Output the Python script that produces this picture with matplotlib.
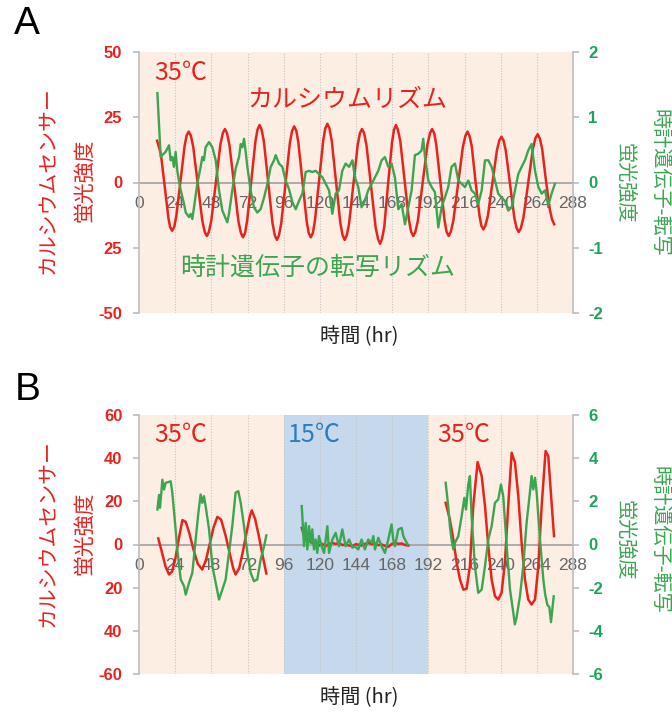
import matplotlib.pyplot as plt

# ---- data ----
hours = [0, 24, 48, 72, 96, 120, 144, 168, 192, 216, 240, 264, 288]
grid_hours = [24, 48, 72, 96, 120, 144, 168, 192, 216, 240, 264]

# panel A (35C constant)
a_left_ticks = [-50, -25, 0, 25, 50]
a_left_labels = ['-50', '25', '0', '25', '50']
a_right_ticks = [-2, -1, 0, 1, 2]
a_right_labels = ['-2', '-1', '0', '1', '2']

a_red_t = [12, 14.5, 17, 19.5, 20.6, 22, 23.4, 24.75, 27.5, 30.25, 31.6, 33, 34.4, 36, 39, 42,
           43.6, 45, 46.4, 48, 51, 54, 55.6, 57, 58.4, 60, 63, 66, 67.6, 69, 70.4, 71.75,
           74.5, 77.25, 78.6, 80, 81.4, 82.9, 85.75, 88.6, 90.1, 91.5, 92.9, 94.4, 97.25,
           100.1, 101.6, 103, 104.4, 105.75, 108.5, 111.25, 112.6, 114, 115.4, 116.75,
           119.5, 122.25, 123.6, 125, 126.4, 127.9, 130.75, 133.6, 135.1, 136.5, 137.9,
           139.4, 142.25, 145.1, 146.6, 148, 149.4, 151, 154, 157, 158.6, 160, 161.3,
           162.8, 165.25, 167.9, 169.2, 170.5, 171.8, 173.4, 176.25, 179.1, 180.6, 182,
           183.4, 185.1, 188.25, 191.4, 193.1, 194.5, 195.9, 197.25, 200, 202.75, 204.1,
           205.5, 206.9, 208.6, 211.75, 214.9, 216.6, 218, 219.3, 220.8, 223.25, 225.9,
           227.2, 228.5, 229.8, 231.5, 234.5, 237.5, 239.1, 240.5, 241.9, 243.4, 246.25,
           249.1, 250.6, 252, 253.4, 255.1, 258.25, 261.4, 263.1, 264.5, 265.9, 267.5, 270,
           272.5, 274, 275.5]
a_red_v = [16, 11, -1.25, -13.5, -17, -18.5, -17, -12.9, 0.5, 13.9, 18, 19.5, 18, 13.6, -0.5,
           -14.6, -18.9, -20.5, -18.9, -14.5, 0, 14.5, 18.9, 20.5, 18.9, 14.4, -0.25, -14.9,
           -19.3, -21, -19.3, -14.7, 0.5, 15.7, 20.2, 22, 20.2, 15.6, 0, -15.6, -20.2, -22,
           -20.2, -15.6, -0.25, 15.1, 19.8, 21.5, 19.8, 15.3, 0.25, -14.8, -19.3, -21,
           -19.3, -14.6, 0.75, 16.1, 20.7, 22.5, 20.7, 16, 0.25, -15.5, -20.2, -22, -20.2,
           -15.8, -0.75, 14.3, 18.9, 20.5, 18.9, 14.1, -1.5, -17.1, -21.6, -23.5, -21.6,
           -16.8, -0.75, 15.3, 20.2, 22, 20.2, 15.8, 0.75, -14.3, -18.9, -20.5, -18.9,
           -14.5, 0, 14.5, 18.9, 20.5, 18.9, 14.5, 0, -14.5, -18.9, -20.5, -18.9, -14.6,
           -0.5, 13.6, 17.9, 19.5, 17.9, 14, 0.75, -12.5, -16.6, -18, -16.6, -12.8, -0.25,
           12.3, 16.1, 17.5, 16.1, 12.2, -0.75, -13.7, -17.5, -19, -17.5, -13.5, -0.25, 13,
           17, 18.5, 17, 13, 1, -10, -14, -16]

a_green_t = [12.2, 14.4, 15.5, 17.7, 19.9, 21, 22.1, 23.2, 24.3, 25.4, 26.5, 27.7, 29.9, 31,
             33.2, 34.3, 35.4, 36.5, 38.7, 40.9, 42, 43.1, 44.2, 46.5, 48.7, 50.9, 53.1,
             55.3, 57.1, 58.6, 59.7, 61.9, 64.1, 66.4, 67.5, 68.6, 69.7, 70.8, 71.9, 74.1,
             76.3, 78.5, 80.7, 83, 85.2, 87.4, 89.6, 90.7, 92.9, 95.1, 97.3, 99.5, 101.8,
             104, 106.2, 108.4, 110.6, 112.8, 115, 117.2, 119.4, 121.7, 123.9, 126.1, 128.3,
             130.5, 132.7, 134.9, 137.1, 139.4, 141.6, 143.3, 145.5, 147.7, 149.9, 152.1,
             154.4, 156.6, 158.8, 161, 163.2, 165.4, 167.6, 169.8, 172.1, 174.3, 176.5,
             178.7, 180.9, 183.1, 185.3, 187.5, 188.6, 189.8, 192, 194.2, 196.4, 198.6,
             200.8, 203, 205.2, 207.4, 209.7, 211.9, 214.1, 216.3, 218.5, 220.7, 222.9,
             225.1, 227.4, 229.6, 231.8, 234, 236.2, 238.4, 240.6, 242.8, 245, 247.3, 249.5,
             251.7, 253.9, 256.1, 258.3, 260.5, 262.8, 265, 267.2, 269.4, 271.6, 273.8, 276]
a_green_v = [1.37, 0.39, 0.42, 0.47, 0.57, 0.34, 0.39, 0.24, 0.47, 0.18, 0.03, -0.12, -0.33,
             -0.46, -0.53, -0.48, -0.56, -0.38, -0.02, 0.24, 0.39, 0.34, 0.54, 0.62, 0.54,
             0.34, -0.12, -0.43, -0.53, -0.61, -0.48, -0.12, 0.21, 0.39, 0.59, 0.54, 0.67,
             0.47, 0.24, -0.12, -0.38, -0.46, -0.41, -0.23, -0.02, 0.24, 0.34, 0.42, 0.29,
             0.24, 0.03, -0.1, -0.3, -0.41, -0.28, -0.17, 0.16, 0.18, 0.16, 0.18, 0.13, 0.08,
             -0.02, -0.12, -0.48, -0.17, -0.12, 0.18, 0.29, 0.24, 0.34, 0.08, -0.07, -0.38,
             -0.28, -0.12, -0.02, 0.08, 0.18, 0.34, 0.39, 0.24, 0.29, 0.08, -0.41, -0.33,
             -0.64, -0.38, -0.12, 0.42, 0.44, 0.49, 0.67, 0.39, 0.03, -0.07, -0.15, -0.69,
             -0.38, -0.23, -0.07, 0.24, 0.29, 0.03, -0.02, -0.07, 0.03, -0.12, -0.17, -0.33,
             -0.12, 0.34, 0.34, 0.24, 0.03, -0.17, -0.23, -0.28, -0.43, -0.38, -0.12, 0.13,
             0.24, 0.34, 0.49, 0.59, 0.18, -0.07, -0.17, -0.12, -0.35, -0.17, -0.02]

# panel B (35C -> 15C -> 35C)
b_left_ticks = [-60, -40, -20, 0, 20, 40, 60]
b_left_labels = ['-60', '40', '20', '0', '20', '40', '60']
b_right_ticks = [-6, -4, -2, 0, 2, 4, 6]
b_right_labels = ['-6', '-4', '-2', '0', '2', '4', '6']
cold_start, cold_end = 96, 192

b_red1_t = [12.8, 15, 17.5, 19.9, 22, 24, 26.5, 28.8, 31, 33.5, 36, 39, 42, 44.5, 47, 49.5,
            52, 54.5, 57.5, 60.5, 62.5, 64.1, 66.5, 69, 71.5, 73.5, 74.8, 77, 79.5, 82, 84.5]
b_red1_v = [2.8, -3, -10, -13.9, -12.5, -7, 3, 11.3, 10.5, 5, -2, -9, -11.6, -7, 0.5, 8,
            12.8, 11.5, 4, -5, -11, -13.9, -11, -3, 6, 13, 15.8, 12, 4, -5, -13.4]
b_red2_t = [108, 109.5, 110.6, 113, 115, 117, 119.4, 121.5, 123.9, 126, 128.3, 130.5, 132.7,
            135, 137.1, 139.4, 141.6, 144, 147.7, 150, 152.1, 154.4, 156.6, 158.8, 161,
            163.2, 165.4, 167.6, 169.8, 172.1, 174.3, 176.5, 178.7]
b_red2_v = [7.7, 4, 2.3, 1.5, 0.8, -0.2, -0.5, 0.3, -0.8, 0.2, 0.8, 0.2, 0.8, -0.3, 0, -0.5,
            -0.8, 0.2, -0.5, 0.3, 0.8, 0.2, 0.5, -0.3, 0, -0.6, -1.1, 0.2, 0.8, 0.3, 0.5,
            -0.2, -0.5]
b_red3_t = [203.5, 206.3, 208.6, 210.8, 213, 215.2, 217.4, 219.6, 221.8, 224.7, 227.4, 229.6,
            231.8, 234, 236.2, 238.4, 240.6, 242.8, 245, 247.3, 249.5, 251.7, 253.9, 256.1,
            258.3, 260.5, 262.8, 265, 267.2, 269.8, 271.6, 273.8, 275.4]
b_red3_v = [19.3, 11.6, 2.3, -8.5, -16.2, -20.9, -20.5, -10, 17.8, 38.2, 31.7, 17.8, -0.8,
            -16.2, -23.9, -25.5, -22.4, -8.5, 17.8, 42.5, 37.9, 22.4, 0.8, -16.2, -25.5,
            -27.8, -25.5, -10, 17.8, 43.3, 40.9, 19.3, 3.9]

b_green1_t = [12.2, 13.3, 13.9, 14.8, 15.5, 16.6, 17.7, 19.9, 21, 22.1, 24.3, 25.4, 27.7,
              29.9, 31, 33.2, 35.4, 37.6, 39.4, 40.9, 42, 43.1, 44.2, 46.5, 48.7, 50.9,
              53.1, 55.3, 57.5, 59.7, 61.9, 64.1, 65.9, 67.5, 69.7, 71.9, 74.1, 76.3, 78.5,
              80.7, 83, 84.5]
b_green1_v = [1.62, 2.3, 1.7, 2.4, 3.0, 2.55, 2.86, 2.9, 2.93, 2.4, 0.7, -0.23, -1.62, -1.93,
              -2.32, -1.78, -1.31, 0.23, 1.47, 2.32, 1.93, 2.24, 1.78, 0.7, -1.0, -1.78,
              -2.55, -2.09, -1.62, -0.39, 0.85, 2.4, 2.47, 1.93, 0.85, -0.39, -1.31, -1.7,
              -1.62, -0.7, -0.08, 0.42]
b_green2_t = [108, 109.5, 110.6, 111.7, 112.8, 113.9, 115, 116.1, 117.2, 118.3, 119.4, 121.2,
              122.8, 125, 126.1, 128.3, 130.5, 132.7, 134.9, 137.1, 139.4, 141.6, 143.3,
              145.5, 147.7, 149.9, 152.1, 154.4, 155.5, 156.6, 158.8, 161, 163.2, 165.4,
              167.6, 168.7, 169.8, 172.1, 174.3, 175.4, 176.5, 178.3]
b_green2_v = [1.78, -0.08, 1.0, -0.23, 0.85, 0.08, 0.7, -0.23, 0.23, -0.39, 0.39, -0.08,
              -0.39, 0.85, -0.39, 0.23, 0.54, -0.08, 0.7, -0.08, 0.23, -0.15, -0.08, -0.23,
              0.23, -0.23, 0.23, 0.08, 0.39, -0.23, 0.31, -0.08, -0.39, 0.23, 0.93, 0.23,
              -0.08, 0.7, 0.77, 0.39, 0.23, 0]
b_green3_t = [203.5, 205.2, 206.3, 207.4, 208.6, 209.7, 211.9, 214.1, 215.9, 217, 218.5,
              219.6, 220.7, 222.9, 225.1, 227.4, 229.6, 231.8, 234, 236.2, 238.4, 240.2,
              241.7, 244, 246.2, 248.4, 249.4, 250.5, 252.8, 255, 257.2, 259.4, 260.5,
              261.6, 262.8, 263.9, 266.1, 268.3, 269.5, 271, 272.3, 273.4, 275.2]
b_green3_v = [2.86, 1.78, 0.85, 0.23, -0.23, 0.08, 0.39, 1.31, 2.16, 1.62, 2.78, 3.17, 1.31,
              -1.0, -2.24, -2.09, -1.0, 0.23, 0.85, 1.93, 2.09, 2.78, 2.24, -0.08, -2.09,
              -3.17, -3.7, -3.4, -2.4, -1.0, 1.0, 2.4, 3.17, 2.55, 3.09, 2.4, 0.23, -1.62,
              -2.3, -2.8, -2.9, -3.6, -2.4]

# ---- style ----
RED = '#e8231e'
GREEN = '#3aa650'
GREEN_TXT = '#1fa35a'
BLUE_TXT = '#2a7dbf'
PEACH = '#fdeee4'
COLD = '#c6d8ec'
CJK = ['Noto Sans CJK JP', 'DejaVu Sans']
NUM = ['Liberation Sans', 'DejaVu Sans']

W, H = 672, 713
fig = plt.figure(figsize=(W / 100, H / 100), dpi=100)


def fx(px):
    return px / W


def fy(py):
    return 1 - py / H


def setup_panel(top, bottom, ylim, lticks, llabels, rlim, rticks, rlabels):
    ax = fig.add_axes([fx(139), fy(bottom), fx(573) - fx(139), fy(top) - fy(bottom)])
    ax.set_facecolor(PEACH)
    ax.set_xlim(0, 288)
    ax.set_ylim(*ylim)
    for t in grid_hours:
        ax.axvline(t, color='#c4c4c4', ls=(0, (1, 1.5)), lw=0.8, zorder=1)
    for s in ('top', 'right'):
        ax.spines[s].set_visible(False)
    ax.spines['left'].set_color('#bdbdbd')
    ax.spines['left'].set_linewidth(1.2)
    ax.spines['bottom'].set_position(('data', 0))
    ax.spines['bottom'].set_color('#a0a0a0')
    ax.spines['bottom'].set_linewidth(1.2)
    ax.spines['bottom'].set_zorder(1.5)
    ax.set_xticks(hours)
    ax.set_xticklabels([str(h) for h in hours], fontsize=12.5, color='#666666', family=NUM)
    ax.tick_params(axis='x', length=0, pad=10)
    ax.set_yticks(lticks)
    ax.set_yticklabels(llabels, fontsize=12, color=RED, fontweight='bold', family=NUM)
    ax.tick_params(axis='y', length=4, width=1.2, color='#bdbdbd', pad=8)

    ax2 = ax.twinx()
    ax2.set_ylim(*rlim)
    for s in ('top', 'left', 'bottom'):
        ax2.spines[s].set_visible(False)
    ax2.spines['right'].set_color('#bdbdbd')
    ax2.spines['right'].set_linewidth(1.2)
    ax2.set_yticks(rticks)
    ax2.set_yticklabels(rlabels, fontsize=12, color=GREEN_TXT, fontweight='bold', family=NUM)
    ax2.tick_params(axis='y', length=4, width=1.2, color='#bdbdbd', pad=7)
    return ax, ax2


def side_labels(cy_left, cy_right, cy_xlabel):
    fig.text(fx(48), fy(cy_left), 'カルシウムセンサー', rotation=90, color=RED, fontsize=15,
             family=CJK, ha='center', va='center')
    fig.text(fx(84), fy(cy_left), '蛍光強度', rotation=90, color=RED, fontsize=15,
             family=CJK, ha='center', va='center')
    fig.text(fx(659), fy(cy_right), '時計遺伝子-転写', rotation=270, color=GREEN, fontsize=14.5,
             family=CJK, ha='center', va='center')
    fig.text(fx(624), fy(cy_right), '蛍光強度', rotation=270, color=GREEN, fontsize=14.5,
             family=CJK, ha='center', va='center')
    fig.text(fx(359), fy(cy_xlabel), '時間 (hr)', color='#222222', fontsize=14.5,
             family=CJK, ha='center', va='center')


# ---- panel A ----
axA, axA2 = setup_panel(52, 313, (-50, 50), a_left_ticks, a_left_labels,
                        (-2, 2), a_right_ticks, a_right_labels)
axA.plot(a_red_t, a_red_v, color=RED, lw=1.8, zorder=3)
axA2.plot(a_green_t, a_green_v, color=GREEN, lw=1.7, zorder=3)
axA.text(10, 42, '35℃', color=RED, fontsize=18, family=CJK, ha='left', va='center')
axA.text(72, 31.5, 'カルシウムリズム', color=RED, fontsize=18, family=CJK,
         ha='left', va='center')
axA.text(27, -32.7, '時計遺伝子の転写リズム', color=GREEN, fontsize=18, family=CJK,
         ha='left', va='center')
side_labels(180, 183, 337)
fig.text(fx(27), fy(24), 'A', fontsize=28, family=NUM, ha='center', va='center')

# ---- panel B ----
axB, axB2 = setup_panel(415, 674, (-60, 60), b_left_ticks, b_left_labels,
                        (-6, 6), b_right_ticks, b_right_labels)
axB.axvspan(cold_start, cold_end, color=COLD, zorder=0.5, lw=0)
for t_, v_ in ((b_red1_t, b_red1_v), (b_red2_t, b_red2_v), (b_red3_t, b_red3_v)):
    axB.plot(t_, v_, color=RED, lw=1.8, zorder=3)
for t_, v_ in ((b_green1_t, b_green1_v), (b_green2_t, b_green2_v), (b_green3_t, b_green3_v)):
    axB2.plot(t_, v_, color=GREEN, lw=1.7, zorder=3)
axB.text(10, 51, '35℃', color=RED, fontsize=18, family=CJK, ha='left', va='center')
axB.text(99, 51, '15℃', color=BLUE_TXT, fontsize=18, family=CJK, ha='left', va='center')
axB.text(198, 51, '35℃', color=RED, fontsize=18, family=CJK, ha='left', va='center')
side_labels(533, 540, 698)
fig.text(fx(28), fy(390), 'B', fontsize=28, family=NUM, ha='center', va='center')

fig.savefig('out.png', dpi=100)
